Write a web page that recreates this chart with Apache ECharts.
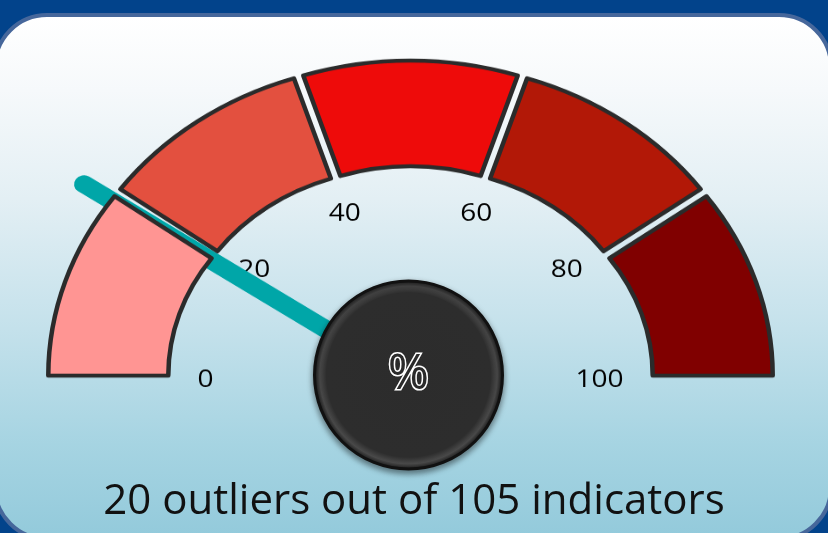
<!DOCTYPE html>
<html>
<head>
<meta charset="utf-8">
<script src="https://cdn.jsdelivr.net/npm/echarts/dist/echarts.min.js"></script>
<style>
  html, body { margin:0; padding:0; width:828px; height:533px; overflow:hidden; background:#02438B; }
  #frame {
    position:absolute; left:-7px; top:13px; width:840px; height:528px; box-sizing:border-box;
    border:4px solid #46679B; border-radius:54px;
    background:linear-gradient(to bottom, #ffffff 0%, #f6f9fb 14%, #e3eff4 35%, #c4e1eb 60%, #a6d4e2 82%, #93cadb 100%);
  }
  #gauge { position:absolute; left:0; top:0; width:828px; height:533px; transform:scaleY(0.88); transform-origin:0 380px; }
  #overlay { position:absolute; left:0; top:0; width:828px; height:533px; }
</style>
</head>
<body>
<div id="frame"></div>
<div id="gauge"></div>
<div id="overlay"></div>
<script>
// ---- data ----
var bandValues = [20, 20, 20, 20, 20];
var bandColors = ['#FF9593', '#E3503F', '#EE0B0A', '#B21807', '#800000'];
var outliers = 20;
var indicators = 105;
var gaugeMin = 0, gaugeMax = 100, gaugeSplits = 5;
var centerSymbol = '%';

var pct = outliers / indicators * 100;
var bandTotal = bandValues.reduce(function (a, b) { return a + b; }, 0);

var CX = 410.5, CY = 380, EXPLODE = 16;
var hidden = { color: 'transparent', borderWidth: 0 };

// one exploded pie series per band (the hidden lower half completes the circle)
var bandSeries = [];
var before = 0;
bandValues.forEach(function (v, i) {
  var after = 2 * bandTotal - before - v;
  var mid = (180 - (before + v / 2) / (2 * bandTotal) * 360) * Math.PI / 180;
  bandSeries.push({
    type: 'pie',
    center: [CX + Math.cos(mid) * EXPLODE, CY - Math.sin(mid) * EXPLODE],
    radius: [227, 347],
    startAngle: 180,
    clockwise: true,
    silent: true,
    emphasis: { disabled: true, scale: false },
    label: { show: false },
    labelLine: { show: false },
    itemStyle: { borderColor: '#2b2b2b', borderWidth: 4.5 },
    data: [
      { value: before, itemStyle: hidden },
      { value: v, itemStyle: { color: bandColors[i] } },
      { value: after, itemStyle: hidden }
    ]
  });
  before += v;
});

var gauge = echarts.init(document.getElementById('gauge'), null, { renderer: 'canvas' });
gauge.setOption({
  animation: false,
  series: bandSeries.concat([
    {
      type: 'gauge',
      center: [CX, CY],
      radius: 227,
      startAngle: 180,
      endAngle: 0,
      min: gaugeMin,
      max: gaugeMax,
      splitNumber: gaugeSplits,
      silent: true,
      axisLine: { show: false, lineStyle: { width: 0 } },
      splitLine: { show: false, length: 0, distance: 0 },
      axisTick: { show: false },
      axisLabel: { distance: 14, color: '#000', fontSize: 28, fontFamily: 'Open Sans' },
      pointer: {
        icon: 'path://M0,1 A1,1 0 0 1 2,1 L2,44 L0,44 Z',
        length: 405,
        width: 20,
        offsetCenter: [0, 0],
        itemStyle: { color: '#00A6A8' }
      },
      anchor: { show: false },
      title: { show: false },
      detail: { show: false },
      data: [{ value: pct }]
    }
  ])
});

var overlay = echarts.init(document.getElementById('overlay'), null, { renderer: 'canvas' });
overlay.setOption({
  animation: false,
  title: {
    text: outliers + ' outliers out of ' + indicators + ' indicators',
    left: 'center',
    top: 476,
    textStyle: { fontFamily: 'Open Sans', fontSize: 42, fontWeight: 'normal', color: '#111' }
  },
  series: [
    {
      type: 'pie',
      center: [408.5, 375],
      radius: [0, 94],
      silent: true,
      emphasis: { disabled: true, scale: false },
      itemStyle: {
        color: {
          type: 'radial', x: 0.5, y: 0.5, r: 0.5,
          colorStops: [
            { offset: 0, color: '#2c2c2c' },
            { offset: 0.86, color: '#2d2d2d' },
            { offset: 0.93, color: '#4a4a4a' },
            { offset: 0.97, color: '#2a2a2a' },
            { offset: 1, color: '#151515' }
          ]
        },
        borderColor: '#111',
        borderWidth: 3,
        shadowBlur: 6,
        shadowColor: 'rgba(0,0,0,0.45)',
        shadowOffsetY: 3
      },
      label: {
        show: true,
        position: 'center',
        formatter: centerSymbol,
        fontFamily: 'Open Sans',
        fontSize: 50,
        color: '#2b2b2b',
        textBorderColor: '#ffffff',
        textBorderWidth: 3
      },
      labelLine: { show: false },
      data: [{ value: 1 }]
    }
  ]
});
</script>
</body>
</html>
